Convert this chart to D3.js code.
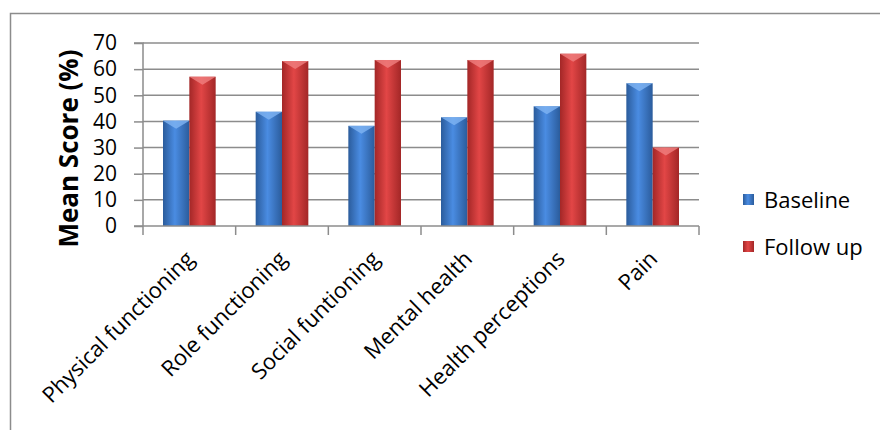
<!DOCTYPE html>
<html>
<head>
<meta charset="utf-8">
<script src="https://cdn.jsdelivr.net/npm/d3@7"></script>
<style>
  body { margin: 0; background: #fff; }
  svg { font-family: "Open Sans", "Liberation Sans", sans-serif; }
</style>
</head>
<body>
<svg id="chart"></svg>
<script>
const categories = ["Physical functioning", "Role functioning", "Social funtioning", "Mental health", "Health perceptions", "Pain"];
const baseline = [40.3, 43.7, 38.3, 41.6, 45.8, 54.6];
const followUp = [57.1, 63.1, 63.5, 63.5, 65.9, 30.0];
const seriesNames = ["Baseline", "Follow up"];
const yTicks = [0, 10, 20, 30, 40, 50, 60, 70];

const width = 880, height = 430;
const margin = { top: 43, right: 181, bottom: 204, left: 143 };

const svg = d3.select("#chart")
  .attr("width", width)
  .attr("height", height);

// chart frame (only the top and left edges show)
svg.append("path")
  .attr("d", `M10.5,${height} V13.5 H${width}`)
  .attr("fill", "none")
  .attr("stroke", "#8c8c8c")
  .attr("stroke-width", 1.5);

const defs = svg.append("defs");
const colors = [
  { id: "gBlue", edge: "#2b5c9c", mid: "#4a8ce2", cap: "#80b4f2" },
  { id: "gRed", edge: "#a32727", mid: "#e24646", cap: "#f08080" }
];
colors.forEach(c => {
  const g = defs.append("linearGradient").attr("id", c.id)
    .attr("x1", "0%").attr("x2", "100%").attr("y1", "0%").attr("y2", "0%");
  g.append("stop").attr("offset", "0%").attr("stop-color", c.edge);
  g.append("stop").attr("offset", "45%").attr("stop-color", c.mid);
  g.append("stop").attr("offset", "100%").attr("stop-color", c.edge);
});

const x0 = d3.scaleBand()
  .domain(categories)
  .range([margin.left, width - margin.right]);

const x1 = d3.scaleBand()
  .domain(seriesNames)
  .range([20, x0.bandwidth() - 20]);

const y = d3.scaleLinear()
  .domain([0, 70])
  .range([height - margin.bottom, margin.top]);

// gridlines
svg.append("g")
  .selectAll("line")
  .data(yTicks.slice(1))
  .join("line")
  .attr("x1", margin.left)
  .attr("x2", width - margin.right)
  .attr("y1", d => y(d))
  .attr("y2", d => y(d))
  .attr("stroke", "#8c8c8c")
  .attr("stroke-width", 1.5);

// bars
const data = categories.map((c, i) => ({ cat: c, values: [baseline[i], followUp[i]] }));

const groups = svg.append("g")
  .selectAll("g")
  .data(data)
  .join("g")
  .attr("transform", d => `translate(${x0(d.cat)},0)`);

const bars = groups.selectAll("g")
  .data(d => d.values.map((v, j) => ({ name: seriesNames[j], v, j })))
  .join("g");

bars.append("rect")
  .attr("x", d => x1(d.name))
  .attr("y", d => y(d.v))
  .attr("width", x1.bandwidth())
  .attr("height", d => y(0) - y(d.v))
  .attr("fill", d => `url(#${colors[d.j].id})`);

bars.append("path")
  .attr("d", d => {
    const x = x1(d.name), w = x1.bandwidth(), t = y(d.v);
    return `M${x},${t} H${x + w} L${x + w / 2},${t + 8} Z`;
  })
  .attr("fill", d => colors[d.j].cap)
  .attr("opacity", 0.8);

// y axis
const yAxis = d3.axisLeft(y).tickValues(yTicks).tickSize(9).tickPadding(17);
const yAxisGroup = svg.append("g")
  .attr("transform", `translate(${margin.left},0)`)
  .call(yAxis);
yAxisGroup.select(".domain").attr("stroke", "#8c8c8c").attr("stroke-width", 1.5)
  .attr("d", `M-9,${y(70)}H0V${y(0)}`);
yAxisGroup.selectAll(".tick line").attr("stroke", "#8c8c8c").attr("stroke-width", 1.5);
yAxisGroup.selectAll("text").attr("font-size", 21).attr("fill", "#000")
  .attr("font-family", "Open Sans, sans-serif");

// x axis
const xAxisGroup = svg.append("g")
  .attr("transform", `translate(0,${y(0)})`);
xAxisGroup.append("line")
  .attr("x1", margin.left - 9).attr("x2", width - margin.right)
  .attr("stroke", "#8c8c8c").attr("stroke-width", 1.5);
xAxisGroup.selectAll(".tk")
  .data(categories.map(c => x0(c)).concat([x0(categories[5]) + x0.bandwidth()]))
  .join("line")
  .attr("x1", d => d).attr("x2", d => d)
  .attr("y1", 0).attr("y2", 9)
  .attr("stroke", "#8c8c8c").attr("stroke-width", 1.5);

xAxisGroup.selectAll(".lbl")
  .data(categories)
  .join("text")
  .attr("transform", d => `translate(${x0(d) + x0.bandwidth() / 2 - 5},${23}) rotate(-45)`)
  .attr("text-anchor", "end")
  .attr("dy", "0.72em")
  .attr("font-size", 22)
  .text(d => d);

// y title
svg.append("text")
  .attr("transform", `translate(78,${(y(0) + y(70)) / 2 + 14}) rotate(-90)`)
  .attr("text-anchor", "middle")
  .attr("font-size", 26)
  .attr("font-weight", "bold")
  .text("Mean Score (%)");

// legend
const legend = svg.append("g")
  .selectAll("g")
  .data(seriesNames)
  .join("g")
  .attr("transform", (d, i) => `translate(743,${194 + i * 47})`);
legend.append("rect")
  .attr("width", 11).attr("height", 11)
  .attr("fill", (d, i) => `url(#${colors[i].id})`);
legend.append("text")
  .attr("x", 21).attr("y", 14)
  .attr("font-size", 22)
  .text(d => d);
</script>
</body>
</html>
